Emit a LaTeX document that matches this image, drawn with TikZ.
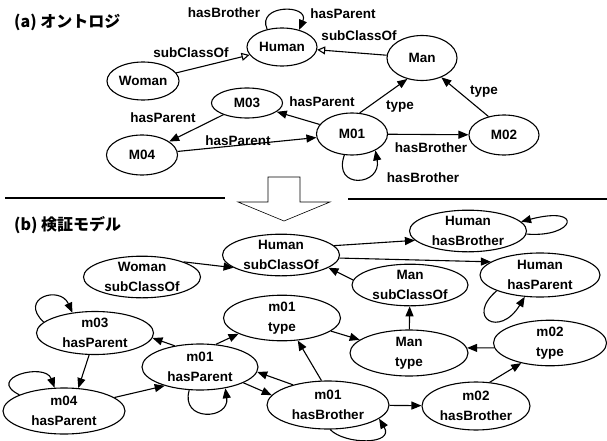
\documentclass[tikz,border=0pt]{standalone}
\usepackage{fontspec}
\setmainfont{Liberation Sans}
\newfontfamily\jp{Noto Sans CJK JP}
\usetikzlibrary{shapes.geometric,arrows.meta}
\begin{document}
\begin{tikzpicture}[x=1pt,y=-1pt,
  ov/.style={ellipse,draw,line width=1.1pt,inner sep=0pt,align=center,
    font=\bfseries\fontsize{13.5}{20}\selectfont},
  lbl/.style={font=\bfseries\fontsize{13.5}{15}\selectfont,inner sep=0pt},
  ttl/.style={font=\jp\bfseries\fontsize{16}{18}\selectfont,inner sep=0pt,anchor=west},
  ed/.style={line width=1.1pt,-{Triangle[length=10pt,width=8pt]}},
  sub/.style={line width=1.1pt,-{Triangle[open,length=8pt,width=8pt]}},
]
\useasboundingbox (0,0) rectangle (607,441);

% ---------- (a) ----------
\node[ttl] (ta) at (14,22) {(a) オントロジ};
\node[ov,minimum width=70pt,minimum height=38pt] (H) at (282,47) {Human};
\node[ov,minimum width=72pt,minimum height=38pt] (W) at (143,81) {Woman};
\node[ov,minimum width=71pt,minimum height=30pt] (M3) at (247,103) {M03};
\node[ov,minimum width=71pt,minimum height=40pt] (M4) at (142,155) {M04};
\node[ov,minimum width=70pt,minimum height=45pt] (Man) at (422,58) {Man};
\node[ov,minimum width=71pt,minimum height=42pt] (M1) at (352,134) {M01};
\node[ov,minimum width=70pt,minimum height=40pt] (M2) at (504,135) {M02};

\node[lbl] (la1) at (224,13) {hasBrother};
\node[lbl] (la2) at (343,14) {hasParent};
\node[lbl] (la3) at (191,53) {subClassOf};
\node[lbl] (la4) at (359,36) {subClassOf};
\node[lbl] (la5) at (163,118) {hasParent};
\node[lbl] (la6) at (238,141) {hasParent};
\node[lbl] (la7) at (322,102) {hasParent};
\node[lbl] (la8) at (400,106) {type};
\node[lbl] (la9) at (484,91) {type};
\node[lbl] (la10) at (431,148) {hasBrother};
\node[lbl] (la11) at (423,178) {hasBrother};

\draw[sub] (W) -- (H);
\draw[sub] (Man) -- (H);
\draw[ed] (M3) -- (M4);
\draw[ed] (M1) -- (M3);
\draw[ed] (M4) -- (M1);
\draw[ed] (M1.70) -- (Man.235);
\draw[ed] (M2.130) -- (Man.-45);
\draw[ed] (M1) -- (M2);
\draw[ed] (H.130) .. controls (256,4) and (310,4) .. (H.45);
\draw[ed] (M1.250) .. controls (332,190) and (382,186) .. (M1.-35);

% ---------- separator ----------
\draw[line width=1.3pt] (5,198) -- (225,198);
\draw[line width=1.3pt] (348,199) -- (607,199);
\draw[line width=0.6pt] (268,177) -- (300,177) -- (300,202) -- (330,202) -- (284,221)
  -- (238,202) -- (268,202) -- cycle;

% ---------- (b) ----------
\node[ttl] (tb) at (14,225) {(b) 検証モデル};
\node[ov,minimum width=117pt,minimum height=40pt] (HS) at (281,255) {Human\\subClassOf};
\node[ov,minimum width=117pt,minimum height=40pt] (WS) at (142,277) {Woman\\subClassOf};
\node[ov,minimum width=117pt,minimum height=38pt] (HB) at (468,231) {Human\\hasBrother};
\node[ov,minimum width=120pt,minimum height=44pt] (HP) at (540,275) {Human\\hasParent};
\node[ov,minimum width=116pt,minimum height=40pt] (MS) at (410,285) {Man\\subClassOf};
\node[ov,minimum width=118pt,minimum height=46pt] (MT) at (409,353) {Man\\type};
\node[ov,minimum width=113pt,minimum height=45pt] (T2) at (550,343) {m02\\type};
\node[ov,minimum width=108pt,minimum height=48pt] (B2) at (476,406) {m02\\hasBrother};
\node[ov,minimum width=122pt,minimum height=48pt] (B1) at (328,405) {m01\\hasBrother};
\node[ov,minimum width=117pt,minimum height=41pt] (T1) at (282,318) {m01\\type};
\node[ov,minimum width=116pt,minimum height=46pt] (P1) at (200,367) {m01\\hasParent};
\node[ov,minimum width=117pt,minimum height=43pt] (P3) at (95,333) {m03\\hasParent};
\node[ov,minimum width=122pt,minimum height=46pt] (P4) at (64,411) {m04\\hasParent};

\draw[ed] (WS.20) -- (HS.195);
\draw[ed] (HS.10) -- (HB.190);
\draw[ed] (HS.-3) -- (HP.165);
\draw[ed] (MS.175) -- (HS.-15);
\draw[ed] (MT) -- (MS);
\draw[ed] (T2.185) -- (MT.5);
\draw[ed] (B2.60) -- (T2.215);
\draw[ed] (T1.-15) -- (MT.165);
\draw[ed] (B1.105) -- (T1.-55);
\draw[ed] (B1) -- (B2);
\draw[ed] (P1.-20) -- (B1.170);
\draw[ed] (B1.150) -- (P1.-5);
\draw[ed] (P1.55) -- (T1.200);
\draw[ed] (P1.140) -- (P3.-5);
\draw[ed] (P3.-105) -- (P4.58);
\draw[ed] (P4.15) -- (P1.208);

\draw[ed] (HB.-3) .. controls (575,238) and (585,205) .. (HB.10);
\draw[ed] (HP.200) .. controls (465,318) and (500,338) .. (HP.235);
\draw[ed] (B1.-85) .. controls (345,445) and (395,445) .. (B1.-15);
\draw[ed] (P1.-115) .. controls (180,422) and (230,420) .. (P1.-40);
\draw[ed] (P3.168) .. controls (18,298) and (60,285) .. (P3.138);
\draw[ed] (P4.160) .. controls (-15,378) and (45,362) .. (P4.112);
\end{tikzpicture}
\end{document}
